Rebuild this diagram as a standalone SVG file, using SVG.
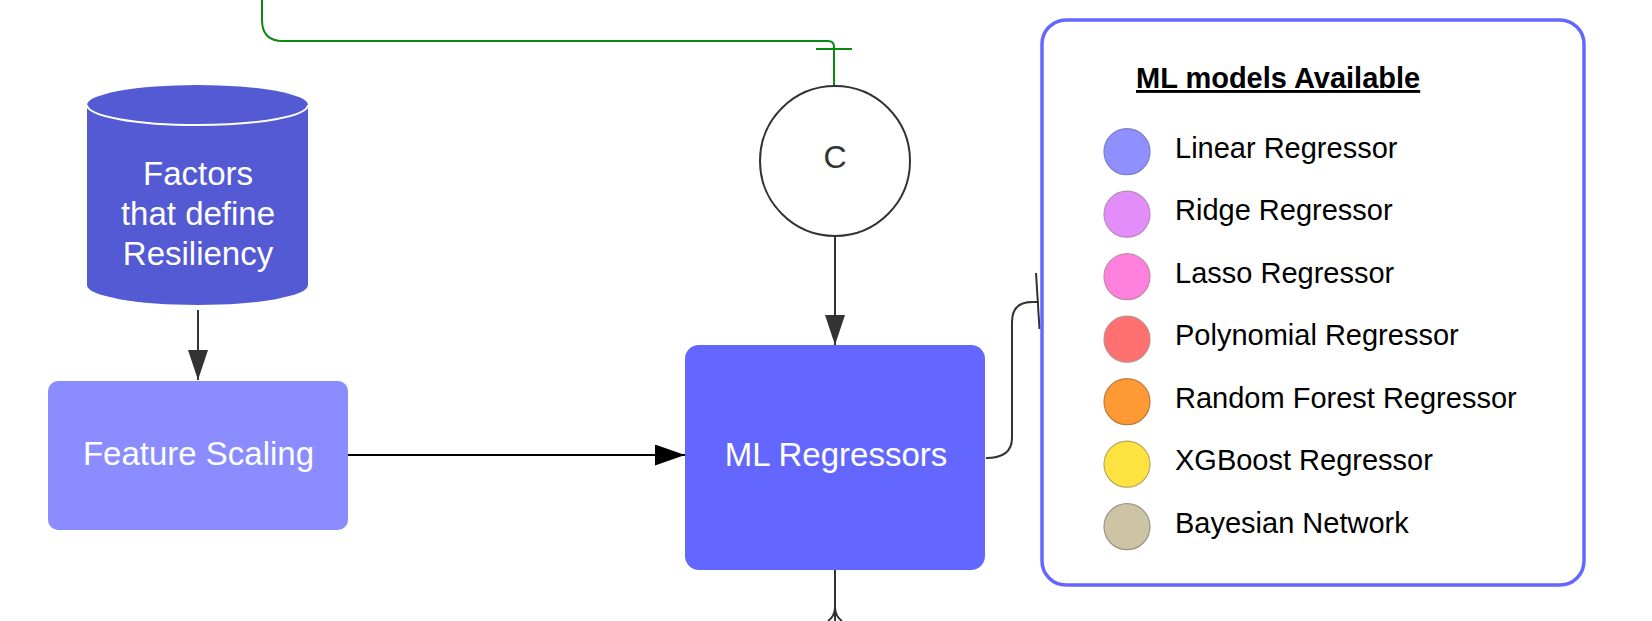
<svg xmlns="http://www.w3.org/2000/svg" width="1652" height="621" viewBox="0 0 1652 621">
  <defs>
    <style>
      .lbl { font-family: "Liberation Sans", Arial, sans-serif; }
      .white { fill: #ffffff; font-size: 33px; text-anchor: middle; }
      .item { fill: #000000; font-size: 29px; }
      .conn { fill: none; stroke: #333333; stroke-width: 2; }
      .dot { stroke-width: 1.2; }
    </style>
    <marker id="arrowDark" markerWidth="30" markerHeight="20" refX="30" refY="10" orient="auto" markerUnits="userSpaceOnUse">
      <path d="M0,0 L30,10 L0,20 Z" fill="#333333"/>
    </marker>
    <marker id="arrowBlack" markerWidth="30" markerHeight="21" refX="30" refY="10.5" orient="auto" markerUnits="userSpaceOnUse">
      <path d="M0,0 L30,10.5 L0,21 Z" fill="#000000"/>
    </marker>
  </defs>
  <rect x="0" y="0" width="1652" height="621" fill="#ffffff"/>

  <g id="connectors">
    <!-- green line from top into circle C with T-bar -->
    <path d="M262,0 V20 Q262,41 283,41 H828 Q834,41 834,47 V86" fill="none" stroke="#0a8a12" stroke-width="2"/>
    <line x1="816" y1="49" x2="852" y2="49" stroke="#0a8a12" stroke-width="2"/>
    <!-- cylinder to feature scaling -->
    <path class="conn" d="M198,310 V380" marker-end="url(#arrowDark)"/>
    <!-- feature scaling to ML regressors -->
    <path d="M348,455 H685" fill="none" stroke="#000000" stroke-width="2" marker-end="url(#arrowBlack)"/>
    <!-- circle C to ML regressors -->
    <path class="conn" d="M835,237 V345" marker-end="url(#arrowDark)"/>
    <!-- ML regressors to legend -->
    <path class="conn" d="M986,458 Q1012,458 1012,438 V322 Q1012,302 1032,302 H1039"/>
    <line x1="1036" y1="273" x2="1039.5" y2="329" stroke="#333333" stroke-width="2"/>
    <!-- ML regressors downward with crow's foot -->
    <path class="conn" d="M835,570 V621"/>
    <path class="conn" d="M835,607 Q835,616 828,621"/>
    <path class="conn" d="M835,607 Q835,616 842,621"/>
  </g>

  <g id="node-factors">
    <path d="M87,105 V285 A110.5,20 0 0 0 308,285 V105 Z" fill="#535ad4"/>
    <ellipse cx="197.5" cy="105" rx="110.5" ry="20" fill="#535ad4"/>
    <path d="M87,105 A110.5,20 0 0 0 308,105" fill="none" stroke="#ffffff" stroke-width="2"/>
    <text class="lbl white" x="198" y="185">Factors</text>
    <text class="lbl white" x="198" y="225">that define</text>
    <text class="lbl white" x="198" y="265">Resiliency</text>
  </g>

  <g id="node-feature-scaling">
    <rect x="48" y="381" width="300" height="149" rx="10" ry="10" fill="#8a8cff"/>
    <text class="lbl white" x="198.5" y="464.5">Feature Scaling</text>
  </g>

  <g id="node-c">
    <circle cx="835" cy="161" r="75" fill="#ffffff" stroke="#333333" stroke-width="2"/>
    <text class="lbl" x="835" y="168" font-size="32" fill="#333333" text-anchor="middle">C</text>
  </g>

  <g id="node-ml-regressors">
    <rect x="685" y="345" width="300" height="225" rx="14" ry="14" fill="#6467ff"/>
    <text class="lbl white" x="836" y="465.5">ML Regressors</text>
  </g>

  <g id="node-legend">
    <rect x="1042" y="20" width="542" height="565" rx="24" ry="24" fill="#ffffff" stroke="#6467ff" stroke-width="3.5"/>
    <text class="lbl" x="1136" y="88" font-size="29" font-weight="bold" fill="#000000" text-decoration="underline">ML models Available</text>
    <circle class="dot" cx="1127" cy="151.7" r="23" fill="#8f8fff" stroke="#7d7dc8"/>
    <text class="lbl item" x="1175" y="157.5">Linear Regressor</text>
    <circle class="dot" cx="1127" cy="214.2" r="23" fill="#e28df9" stroke="#b78ab8"/>
    <text class="lbl item" x="1175" y="220">Ridge Regressor</text>
    <circle class="dot" cx="1127" cy="276.7" r="23" fill="#ff80dd" stroke="#c08aa8"/>
    <text class="lbl item" x="1175" y="282.5">Lasso Regressor</text>
    <circle class="dot" cx="1127" cy="339.2" r="23" fill="#ff7070" stroke="#c08a8a"/>
    <text class="lbl item" x="1175" y="345">Polynomial Regressor</text>
    <circle class="dot" cx="1127" cy="401.7" r="23" fill="#ff9933" stroke="#c07a40"/>
    <text class="lbl item" x="1175" y="407.5">Random Forest Regressor</text>
    <circle class="dot" cx="1127" cy="464.2" r="23" fill="#ffe340" stroke="#b8a860"/>
    <text class="lbl item" x="1175" y="470">XGBoost Regressor</text>
    <circle class="dot" cx="1127" cy="526.7" r="23" fill="#ccc4a4" stroke="#9a9484"/>
    <text class="lbl item" x="1175" y="532.5">Bayesian Network</text>
  </g>
</svg>
